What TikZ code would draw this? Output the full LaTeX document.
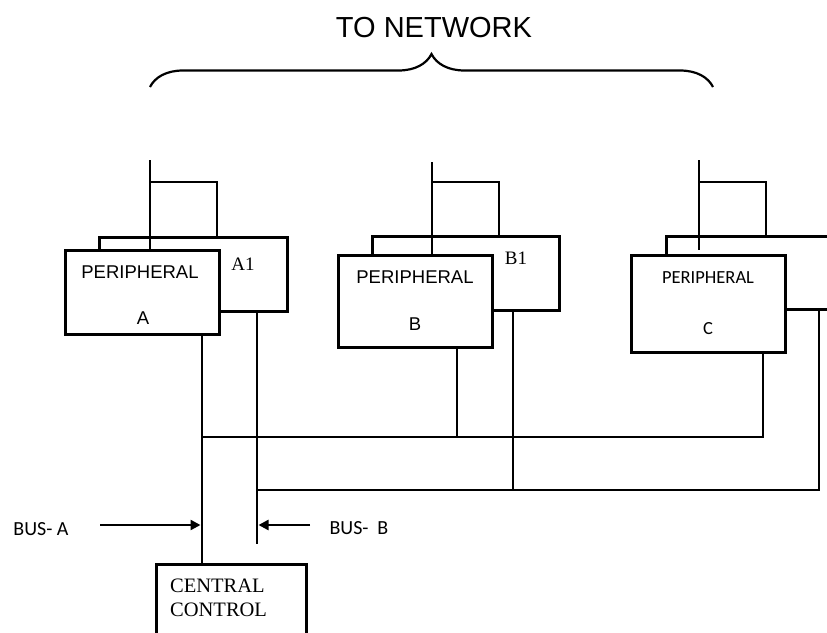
\documentclass[tikz,border=0pt]{standalone}
\usepackage{fontspec}
\newfontfamily\arialfont{Liberation Sans}
\newfontfamily\calibrifont{Carlito}
\newfontfamily\timesfont{Liberation Serif}
\usetikzlibrary{arrows.meta,decorations.pathreplacing,calc}
\tikzset{
  unitbox/.style={draw,rectangle,line width=3pt,inner sep=0pt,fill=white},
  wire/.style={line width=2.7pt},
  busarrow/.style={line width=2.4pt,-{Triangle[length=10pt,width=10pt]}},
  sanslbl/.style={font={\arialfont\fontsize{18.5}{22}\selectfont}},
  calilbl/.style={font={\calibrifont\fontsize{18.5}{22}\selectfont}},
  seriflbl/.style={font={\timesfont\fontsize{19}{22}\selectfont}},
}

\begin{document}
\begin{tikzpicture}[x=1pt,y=-1pt]
  \clip (0,0) rectangle (827,632);

  % heading and brace
  \node[font={\arialfont\fontsize{29}{32}\selectfont}] (net) at (434,28) {TO NETWORK};
  \coordinate (braceL) at (150,87);
  \coordinate (braceR) at (713,87);
  \draw [line width=2.2pt, decorate, decoration={brace,amplitude=33pt}] (braceL) -- (braceR);

  % back boxes
  \node[unitbox, minimum width=188, minimum height=74] (pA1) at (193,274) {};
  \node[unitbox, minimum width=187, minimum height=74] (pB1) at (465.5,273) {};
  \node[unitbox, minimum width=184, minimum height=73] (pC1) at (758,272.5) {};

  % front boxes
  \node[unitbox, minimum width=154, minimum height=84] (pA) at (142,292) {};
  \node[unitbox, minimum width=154, minimum height=92] (pB) at (415,301) {};
  \node[unitbox, minimum width=154, minimum height=97] (pC) at (708,303.5) {};

  % labels
  \node[sanslbl] (pAname) at (140,272) {PERIPHERAL};
  \node[sanslbl] (pAlet) at (143,318.5) {A};
  \node[seriflbl] (pA1lbl) at (243,264) {A1};
  \node[sanslbl] (pBname) at (415,277) {PERIPHERAL};
  \node[sanslbl] (pBlet) at (415,324) {B};
  \node[seriflbl] (pB1lbl) at (516,258) {B1};
  \node[calilbl] (pCname) at (708,278) {PERIPHERAL};
  \node[calilbl] (pClet) at (708,329) {C};

  % network stubs
  \coordinate (netA) at (150,160);
  \coordinate (loopA) at (217,182);
  \draw[wire] (netA) -- (netA |- pA.north);
  \draw[wire] (netA |- loopA) -- (loopA) -- (loopA |- pA1.north);
  \coordinate (netB) at (432,162);
  \coordinate (loopB) at (499,182);
  \draw[wire] (netB) -- (netB |- pB.north);
  \draw[wire] (netB |- loopB) -- (loopB) -- (loopB |- pB1.north);
  \coordinate (netC) at (699,160);
  \coordinate (loopC) at (766,182);
  \draw[wire] (netC) -- ($(netC |- pC.north)+(0,-4)$);
  \draw[wire] (netC |- loopC) -- (loopC) -- (loopC |- pC1.north);

  % central control
  \node[unitbox, minimum width=150, minimum height=90, anchor=north west] (ctrl) at (155,563) {};
  \node[font={\timesfont\fontsize{20.5}{24}\selectfont}, align=left, anchor=west, inner sep=0pt] (ctrltxt) at (170,598) {CENTRAL\\CONTROL};

  % buses
  \coordinate (busA) at (202,0);
  \coordinate (busB) at (257,0);
  \coordinate (busBend) at (257,544);
  \draw[wire] (busA |- pA.south) -- (busA |- ctrl.north);
  \draw[wire] (busB |- pA1.south) -- (busBend);

  \coordinate (tapB) at (457,437);
  \coordinate (tapC) at (763,437);
  \draw[wire] (busA |- tapB) -- (tapC) -- (tapC |- pC.south);
  \draw[wire] (tapB) -- (tapB |- pB.south);
  \coordinate (tapB1) at (513,490);
  \coordinate (tapC1) at (819,490);
  \draw[wire] (busB |- tapB1) -- (tapC1) -- (tapC1 |- pC1.south);
  \draw[wire] (tapB1) -- (tapB1 |- pB1.south);

  % bus labels
  \node[font={\calibrifont\fontsize{20}{24}\selectfont}] (busAlbl) at (41,529) {BUS- A};
  \node[font={\calibrifont\fontsize{20}{24}\selectfont}, anchor=west] (busBlbl) at (326,528) {BUS-\ \ B};
  \coordinate (arrA) at (100,525);
  \coordinate (arrB) at (310,525);
  \draw[busarrow] (arrA) -- ($(arrA -| busA)+(-1.5,0)$);
  \draw[busarrow] (arrB) -- ($(arrB -| busB)+(1.5,0)$);
\end{tikzpicture}
\end{document}
